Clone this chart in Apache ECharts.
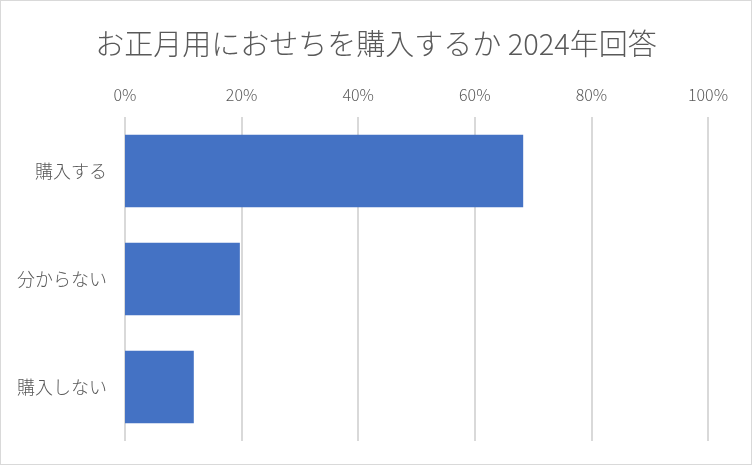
<!DOCTYPE html>
<html><head><meta charset="utf-8">
<script src="https://cdn.jsdelivr.net/npm/echarts@6/dist/echarts.min.js"></script>
<style>html,body{margin:0;padding:0;background:#fff}#c{width:752px;height:465px;box-sizing:border-box;border:1px solid #d9d9d9}</style>
</head><body><div id="c"></div>
<script>
const titleText = 'お正月用におせちを購入するか 2024年回答';
const categories = ['購入する', '分からない', '購入しない'];
const values = [0.683, 0.197, 0.118];
const xTicks = [0, 0.2, 0.4, 0.6, 0.8, 1.0];

const font = '"Noto Sans CJK JP", "Noto Sans", sans-serif';
const chart = echarts.init(document.getElementById('c'));
chart.setOption({
  animation: false,
  title: {
    text: titleText, left: 'center', top: 23,
    textStyle: { fontFamily: font, fontSize: 29, fontWeight: 300, color: '#595959' }
  },
  grid: { left: 124, right: 43, top: 116, bottom: 23, containLabel: false },
  xAxis: {
    type: 'value', position: 'top', min: 0, max: 1, interval: 0.2,
    axisLine: { show: false }, axisTick: { show: false },
    splitLine: { show: true, lineStyle: { color: '#d9d9d9', width: 2 } },
    axisLabel: {
      margin: 14, color: '#595959', fontSize: 16, fontWeight: 300, fontFamily: font,
      formatter: v => xTicks.includes(Math.round(v*10)/10) ? Math.round(v*100) + '%' : ''
    }
  },
  yAxis: {
    type: 'category', data: categories, inverse: true,
    axisLine: { show: false }, axisTick: { show: false },
    axisLabel: { margin: 18, color: '#595959', fontSize: 18, fontWeight: 300, fontFamily: font }
  },
  series: [{
    type: 'bar', data: values, barCategoryGap: '33%',
    itemStyle: { color: '#4472c4' }
  }]
});
</script></body></html>
